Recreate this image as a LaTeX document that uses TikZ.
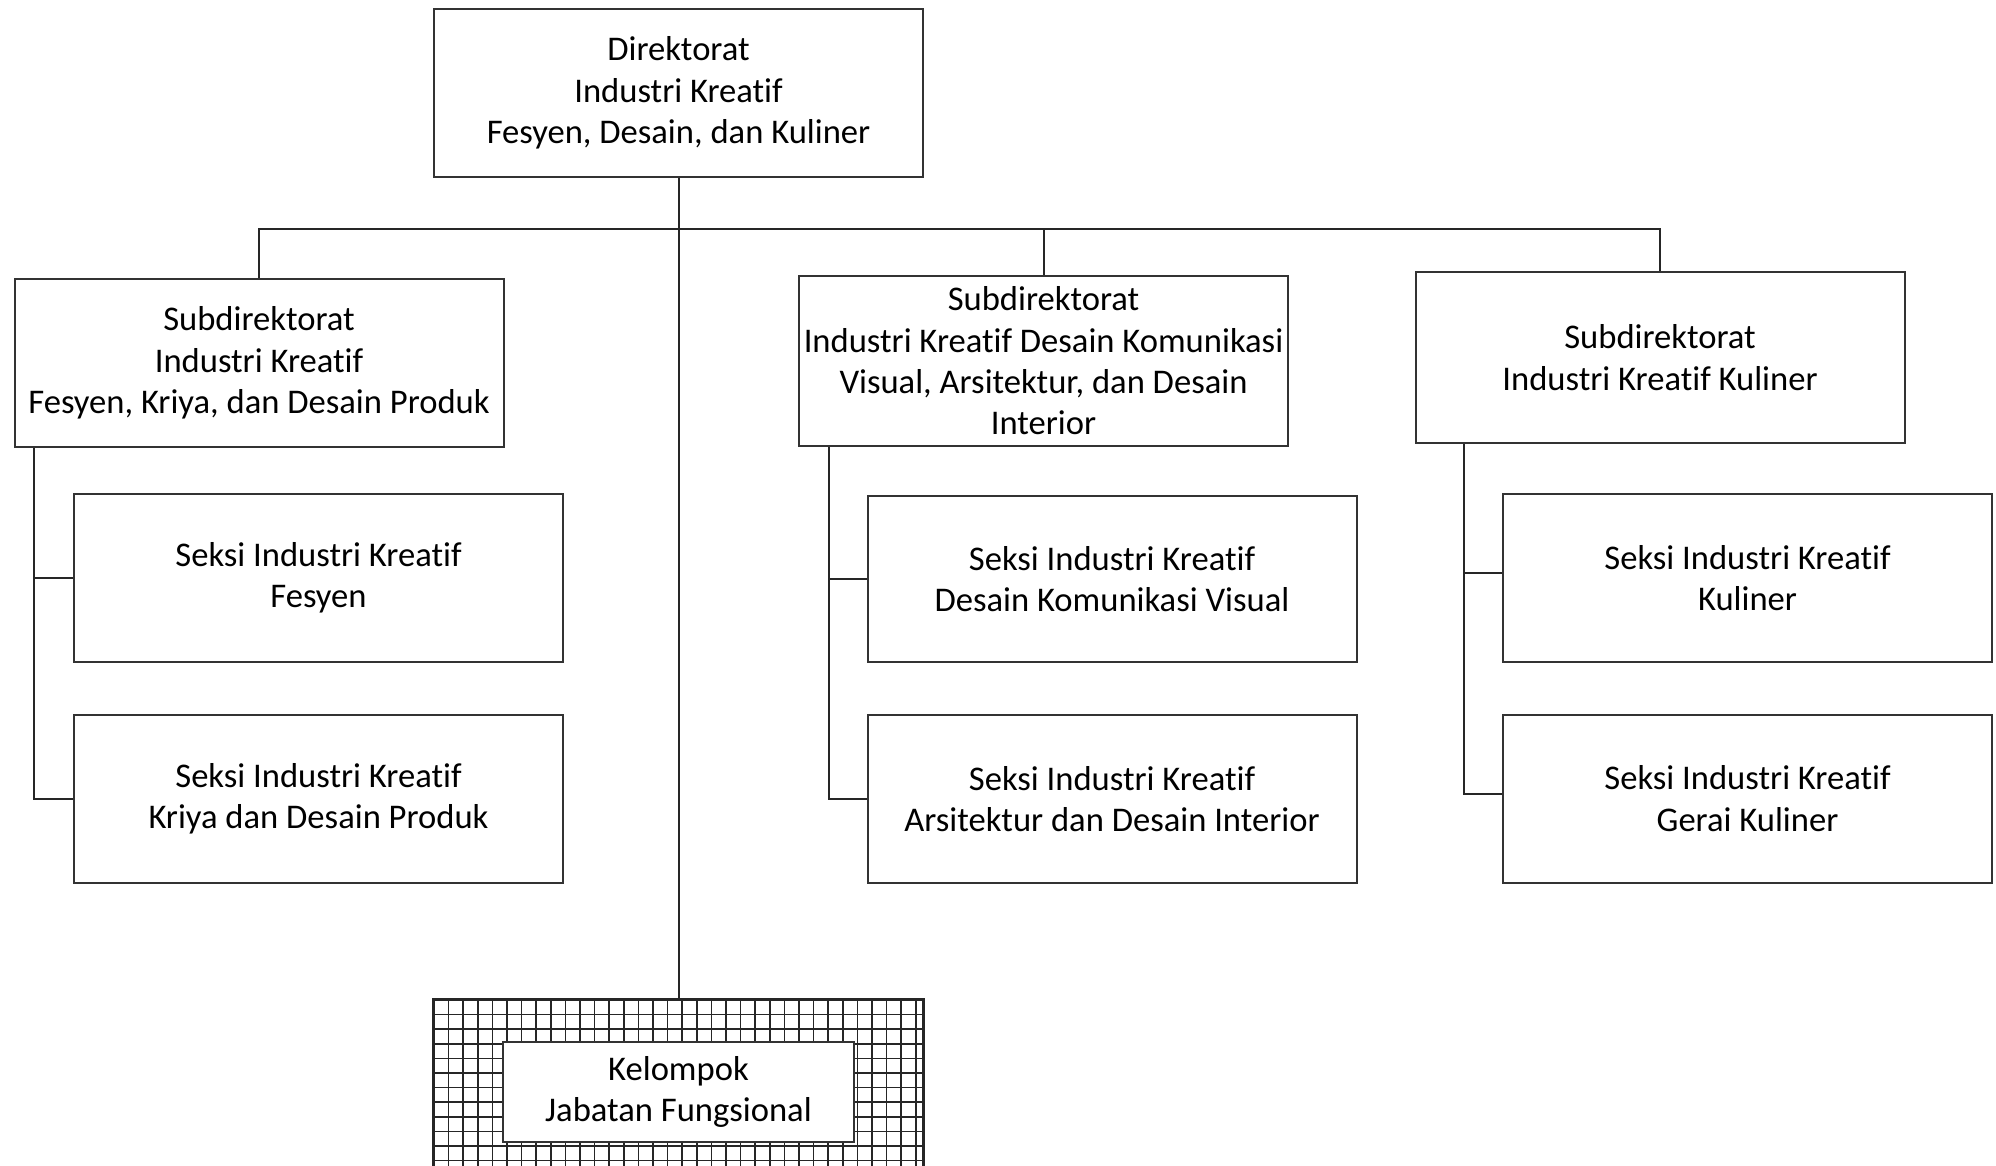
\documentclass[tikz,border=0pt]{standalone}
\usepackage{fontspec}
\setmainfont{Carlito}[Ligatures={NoCommon}]
\begin{document}
\begin{tikzpicture}[x=0.5pt,y=-0.5pt,
  line width=1pt,
  box/.style={draw=black!80, fill=white, rectangle, minimum width=244.5pt, minimum height=84pt,
    align=center, inner sep=0pt, font=\fontsize{17.3pt}{20.7pt}\selectfont},
  conn/.style={draw=black!85, line width=1pt}]
\useasboundingbox (0,0) rectangle (1996,1166);
\clip (0,0) rectangle (1996,1166);
\fill[white] (0,0) rectangle (1996,1166);

\node[box] (top) at (678.5,93) {Direktorat\\Industri Kreatif\\Fesyen, Desain, dan Kuliner};

\node[box] (l1) at (259,363) {Subdirektorat\\Industri Kreatif\\Fesyen, Kriya, dan Desain Produk};
\node[box] (l2) at (318.5,578) {Seksi Industri Kreatif\\Fesyen};
\node[box] (l3) at (318.5,798.5) {Seksi Industri Kreatif\\Kriya dan Desain Produk};

\node[box, minimum height=85pt] (m1) at (1043.5,361) {Subdirektorat\\Industri Kreatif Desain Komunikasi\\Visual, Arsitektur, dan Desain\\Interior};
\node[box, minimum height=83pt] (m2) at (1112,579) {Seksi Industri Kreatif\\Desain Komunikasi Visual};
\node[box] (m3) at (1112,799) {Seksi Industri Kreatif\\Arsitektur dan Desain Interior};

\node[box, minimum height=85.5pt] (r1) at (1660,357.5) {Subdirektorat\\Industri Kreatif Kuliner};
\node[box] (r2) at (1747.5,578) {Seksi Industri Kreatif\\Kuliner};
\node[box] (r3) at (1747.5,798.5) {Seksi Industri Kreatif\\Gerai Kuliner};

% bottom grid box (cut off at the bottom edge)
\node[draw=black!85, rectangle, minimum width=244.5pt, minimum height=100pt, inner sep=0pt] (kjfo) at (678.5,1100) {};
\begin{scope}
  \clip (kjfo.south west) rectangle (kjfo.north east);
  \foreach \i in {0,...,34} \draw[black!85, line width=0.8pt] (434+\i*14.6,1000) -- ++(0,200);
  \foreach \j in {0,...,13} \draw[black!85, line width=0.8pt] (434,1000+\j*14.6) -- ++(489,0);
\end{scope}
\draw[black!85, line width=1pt] (kjfo.south west) -- (kjfo.north west) -- (kjfo.north east) -- (kjfo.south east);
\node[box, minimum width=175.5pt, minimum height=50pt] (kjf) at (678.5,1092) {Kelompok\\Jabatan Fungsional};

% connectors
\coordinate (bus) at (0,229);
\draw[conn] (top.south) -- (kjfo.north);
\draw[conn] (l1.north) -- (l1.north |- bus) -- (r1.north |- bus) -- (r1.north);
\draw[conn] (m1.north |- bus) -- (m1.north);

\coordinate (lx) at (34,0);
\draw[conn] (l1.south -| lx) -- (l3.west -| lx) -- (l3.west);
\draw[conn] (l2.west -| lx) -- (l2.west);

\coordinate (mx) at (829,0);
\draw[conn] (m1.south -| mx) -- (m3.west -| mx) -- (m3.west);
\draw[conn] (m2.west -| mx) -- (m2.west);

\coordinate (rx) at (1464,0);
\draw[conn] (r1.south -| rx) -- ([yshift=2.5pt]r3.west -| rx) -- ([yshift=2.5pt]r3.west);
\draw[conn] ([yshift=2.5pt]r2.west -| rx) -- ([yshift=2.5pt]r2.west);
\end{tikzpicture}
\end{document}
